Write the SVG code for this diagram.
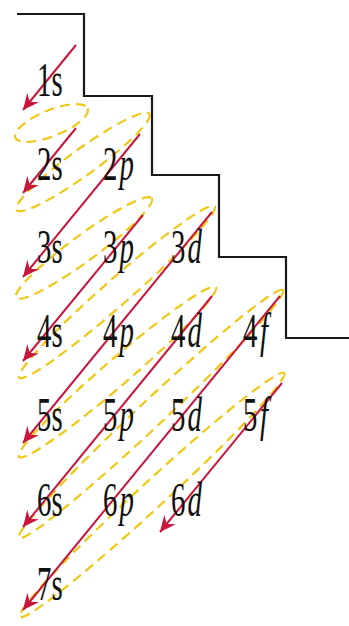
<svg xmlns="http://www.w3.org/2000/svg" width="349" height="626" viewBox="0 0 349 626">
<style>
.stair{fill:none;stroke:#1a1a1a;stroke-width:2.2}
.ell{fill:none;stroke:#f0c814;stroke-width:2.2;stroke-dasharray:10 6}
.arr{fill:none;stroke:#c8163c;stroke-width:2;marker-end:url(#ah)}
.lbl{font-family:"Liberation Serif","Times New Roman",serif;font-size:48px;fill:#111}
.it{font-style:italic}
</style>
<defs>
<marker id="ah" markerUnits="userSpaceOnUse" markerWidth="18" markerHeight="18" viewBox="-17 -9 18 18" refX="0" refY="0" orient="auto">
<path d="M0,0 L-16,-7.5 L-10.5,0 L-16,7.5 Z" fill="#c8163c"/>
</marker>
</defs>
<rect width="349" height="626" fill="#ffffff"/>
<g id="staircase">
<path class="stair" d="M17,14 H84 V96 H152 V175 H219 V257 H286 V338 H349"/>
</g>
<g id="ellipses">
<ellipse class="ell" cx="51.5" cy="123" rx="39" ry="13" transform="rotate(-22 51.5 123)"/>
<ellipse class="ell" cx="83" cy="162" rx="82" ry="13" transform="rotate(-36 83 162)"/>
<ellipse class="ell" cx="84" cy="248" rx="84" ry="13" transform="rotate(-36.3 84 248)"/>
<ellipse class="ell" cx="117" cy="292" rx="130" ry="13" transform="rotate(-41.3 117 292)"/>
<ellipse class="ell" cx="117.5" cy="372" rx="130" ry="13" transform="rotate(-40.8 117.5 372)"/>
<ellipse class="ell" cx="151" cy="414" rx="181" ry="13" transform="rotate(-43.2 151 414)"/>
<ellipse class="ell" cx="152" cy="495" rx="180" ry="13" transform="rotate(-42.7 152 495)"/>
</g>
<g id="connectors">
<line class="arr" x1="76" y1="45" x2="23" y2="110"/>
<line class="arr" x1="76" y1="128" x2="23" y2="193"/>
<line class="arr" x1="140" y1="134" x2="23" y2="277"/>
<line class="arr" x1="143" y1="215" x2="23" y2="361"/>
<line class="arr" x1="212" y1="212" x2="23" y2="443"/>
<line class="arr" x1="212" y1="296" x2="23" y2="527"/>
<line class="arr" x1="280" y1="296" x2="23" y2="610"/>
<line class="arr" x1="282" y1="383" x2="160" y2="532"/>
</g>
<g id="n1s"><text class="lbl" transform="translate(37 96) scale(0.6 1)">1s</text></g>
<g id="n2s"><text class="lbl" transform="translate(37 180) scale(0.6 1)">2s</text></g>
<g id="n2p"><text class="lbl" transform="translate(103 180) scale(0.6 1)">2</text><text class="lbl it" transform="translate(119.5 180) scale(0.6 1)">p</text></g>
<g id="n3s"><text class="lbl" transform="translate(37 263) scale(0.6 1)">3s</text></g>
<g id="n3p"><text class="lbl" transform="translate(103 263) scale(0.6 1)">3</text><text class="lbl it" transform="translate(119.5 263) scale(0.6 1)">p</text></g>
<g id="n3d"><text class="lbl" transform="translate(171 263) scale(0.6 1)">3</text><text class="lbl it" transform="translate(187.5 263) scale(0.6 1)">d</text></g>
<g id="n4s"><text class="lbl" transform="translate(37 347) scale(0.6 1)">4s</text></g>
<g id="n4p"><text class="lbl" transform="translate(103 347) scale(0.6 1)">4</text><text class="lbl it" transform="translate(119.5 347) scale(0.6 1)">p</text></g>
<g id="n4d"><text class="lbl" transform="translate(171 347) scale(0.6 1)">4</text><text class="lbl it" transform="translate(187.5 347) scale(0.6 1)">d</text></g>
<g id="n4f"><text class="lbl" transform="translate(243 347) scale(0.6 1)">4</text><text class="lbl it" transform="translate(260 347) scale(0.6 1)">f</text></g>
<g id="n5s"><text class="lbl" transform="translate(37 431) scale(0.6 1)">5s</text></g>
<g id="n5p"><text class="lbl" transform="translate(103 431) scale(0.6 1)">5</text><text class="lbl it" transform="translate(119.5 431) scale(0.6 1)">p</text></g>
<g id="n5d"><text class="lbl" transform="translate(171 431) scale(0.6 1)">5</text><text class="lbl it" transform="translate(187.5 431) scale(0.6 1)">d</text></g>
<g id="n5f"><text class="lbl" transform="translate(243 431) scale(0.6 1)">5</text><text class="lbl it" transform="translate(260 431) scale(0.6 1)">f</text></g>
<g id="n6s"><text class="lbl" transform="translate(37 516) scale(0.6 1)">6s</text></g>
<g id="n6p"><text class="lbl" transform="translate(103 516) scale(0.6 1)">6</text><text class="lbl it" transform="translate(119.5 516) scale(0.6 1)">p</text></g>
<g id="n6d"><text class="lbl" transform="translate(171 516) scale(0.6 1)">6</text><text class="lbl it" transform="translate(187.5 516) scale(0.6 1)">d</text></g>
<g id="n7s"><text class="lbl" transform="translate(37 600) scale(0.6 1)">7s</text></g>
</svg>
